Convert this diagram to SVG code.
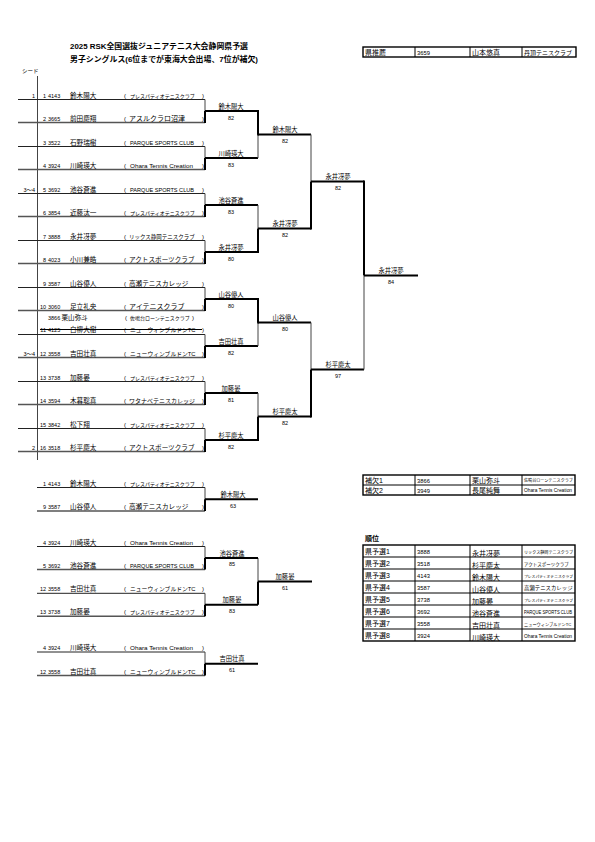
<svg xmlns="http://www.w3.org/2000/svg" width="595" height="842" viewBox="0 0 595 842">
<style>
text{font-family:"Liberation Sans","Noto Sans CJK JP",sans-serif;fill:#000}
.ttl{font-size:7.6px;font-weight:bold}
.s{font-size:5.5px}
.nm{font-size:6.6px}
.c{font-size:6px}
.pr{font-size:5px}
.pq{font-size:5.6px}
.oh{font-size:6px}
.rx{font-size:5.5px}
.ak{font-size:6.6px}
.wt{font-size:6px}
.nw{font-size:5.8px}
.sn{font-size:5px}
.tk2{font-size:6.6px}
.ai{font-size:7px}
.r{font-size:6.3px;text-anchor:middle}
.sc{font-size:5.5px;text-anchor:middle}
.e{text-anchor:end}
.tc{font-size:7px}
.tn{font-size:5.8px}
.t12{font-size:4.1px}
.t10{font-size:4.5px}
.t9{font-size:5.4px}
.tl{font-size:4.8px}
.pl{stroke:#222;stroke-width:1;fill:none}
.pl2{stroke:#555;stroke-width:1.4;fill:none}
.thin{stroke:#444;stroke-width:1;fill:none}
.thick{stroke:#000;stroke-width:2;fill:none}
.tb{stroke:#000;stroke-width:1;fill:none}
.tbo{stroke:#000;stroke-width:1.4;fill:none}
</style>
<rect width="595" height="842" fill="#fff"/>

<g id="title">
<text class="ttl" x="70" y="49" textLength="178" lengthAdjust="spacingAndGlyphs">2025 RSK全国選抜ジュニアテニス大会静岡県予選</text>
<text class="ttl" x="70" y="62" textLength="188" lengthAdjust="spacingAndGlyphs">男子シングルス(6位までが東海大会出場、7位が補欠)</text>
<text class="s" x="22" y="73">シード</text>
</g>

<g id="recommend-table">
<rect class="tbo" x="363" y="47" width="213" height="10"/>
<path class="tb" d="M415 47V57M470 47V57M522 47V57"/>
<text class="tc" x="365" y="54.5">県推薦</text>
<text class="tn" x="417" y="54.5">3659</text>
<text class="tc" x="472" y="55">山本悠真</text>
<text class="c" x="524" y="54.5">丹頂テニスクラブ</text>
</g>

<g id="connectors">
<path class="thin" d="M37.5 76V460"/>
<path class="pl" d="M18 99.5H205M18 146.5H205M18 193.5H205M18 240.5H205M18 287.5H205M18 334.5H205M18 381.5H205M18 428.5H205"/>
<path class="pl2" d="M18 122.5H205M18 169.5H205M18 216.5H205M18 263.5H205M18 310.5H205M18 357.5H205M18 404.5H205M18 451.5H205"/>
<path class="thin" d="M205 99.5V111M205 146.5V158M205 193.5V205M205 240.5V252M205 287.5V299M205 334.5V346M205 381.5V393M205 428.5V440"/>
<path class="thick" d="M205 111V123M205 158V170M205 205V217M205 252V264M205 299V311M205 346V358M205 393V405M205 440V452"/>
<path class="thick" d="M205 111H258M205 158H258M205 205H258M205 252H258M205 299H258M205 346H258M205 393H258M205 440H258"/>
<path class="thick" d="M258 110V135.5M258 228.5V253M258 298V323.5M258 416.5V441"/>
<path class="thin" d="M258 134.5V158M258 205V228.5M258 322.5V346M258 393V416.5"/>
<path class="thick" d="M258 134.5H311M258 228.5H311M258 322.5H311M258 416.5H311"/>
<path class="thin" d="M311 134.5V181.5M311 322.5V369.5"/>
<path class="thick" d="M311 181.5V229.5M311 369.5V417.5"/>
<path class="thick" d="M311 181.5H364M311 369.5H364"/>
<path class="thick" d="M364 180.5V275.5"/>
<path class="thin" d="M364 275.5V369.5"/>
<path class="thick" d="M364 275.5H418"/>
<path class="tb" d="M40 329.5H202"/>
<path class="pl" d="M37 487.5H205M37 546.5H205M37 593.3H205M37 652H205"/>
<path class="pl2" d="M37 511H205M37 569.5H205M37 616.3H205M37 675.5H205"/>
<path class="thin" d="M205 487.5V499.3M205 546.5V558M205 593.3V604.8M205 652V663.8M258 558V581.4"/>
<path class="thick" d="M205 499.3V511M205 558V569.5M205 604.8V616.3M205 663.8V675.5M258 581.4V604.8"/>
<path class="thick" d="M205 499.3H258M205 558H258M205 604.8H258M205 663.8H258M258 581.4H312"/>
</g>

<g id="players">
<g id="p1"><text class="s e" x="35" y="97.5">1</text><text class="s e" x="46" y="97.5">1</text><text class="s" x="48" y="97.5">4143</text><text class="nm" x="70" y="97.5">鈴木陽大</text><text class="c" x="124" y="97.5">(</text><text class="pr" x="130" y="97.5">プレスパティオテニスクラブ</text><text class="c" x="202" y="97.5">)</text></g>
<g id="p2"><text class="s e" x="46" y="120.5">2</text><text class="s" x="48" y="120.5">3665</text><text class="nm" x="70" y="120.5">前田慶翔</text><text class="c" x="124" y="120.5">(</text><text class="ai" x="129" y="120.5">アスルクラロ沼津</text><text class="c" x="202" y="120.5">)</text></g>
<g id="p3"><text class="s e" x="46" y="144.5">3</text><text class="s" x="48" y="144.5">3522</text><text class="nm" x="70" y="144.5">石野瑞樹</text><text class="c" x="124" y="144.5">(</text><text class="pq" x="130" y="144.5" textLength="64" lengthAdjust="spacingAndGlyphs">PARQUE SPORTS CLUB</text><text class="c" x="202" y="144.5">)</text></g>
<g id="p4"><text class="s e" x="46" y="167.5">4</text><text class="s" x="48" y="167.5">3924</text><text class="nm" x="70" y="167.5">川崎瑛大</text><text class="c" x="124" y="167.5">(</text><text class="oh" x="130" y="167.5" textLength="63" lengthAdjust="spacingAndGlyphs">Ohara Tennis Creation</text><text class="c" x="202" y="167.5">)</text></g>
<g id="p5"><text class="s e" x="35" y="191.5">3～4</text><text class="s e" x="46" y="191.5">5</text><text class="s" x="48" y="191.5">3692</text><text class="nm" x="70" y="191.5">池谷蒼進</text><text class="c" x="124" y="191.5">(</text><text class="pq" x="130" y="191.5" textLength="64" lengthAdjust="spacingAndGlyphs">PARQUE SPORTS CLUB</text><text class="c" x="202" y="191.5">)</text></g>
<g id="p6"><text class="s e" x="46" y="214.5">6</text><text class="s" x="48" y="214.5">3854</text><text class="nm" x="70" y="214.5">近藤汰一</text><text class="c" x="124" y="214.5">(</text><text class="pr" x="130" y="214.5">プレスパティオテニスクラブ</text><text class="c" x="202" y="214.5">)</text></g>
<g id="p7"><text class="s e" x="46" y="238.5">7</text><text class="s" x="48" y="238.5">3888</text><text class="nm" x="70" y="238.5">永井冴夢</text><text class="c" x="124" y="238.5">(</text><text class="rx" x="129" y="238.5">リックス静岡テニスクラブ</text><text class="c" x="202" y="238.5">)</text></g>
<g id="p8"><text class="s e" x="46" y="261.5">8</text><text class="s" x="48" y="261.5">4023</text><text class="nm" x="70" y="261.5">小川兼皓</text><text class="c" x="124" y="261.5">(</text><text class="ak" x="129" y="261.5">アクトスポーツクラブ</text><text class="c" x="202" y="261.5">)</text></g>
<g id="p9"><text class="s e" x="46" y="285.5">9</text><text class="s" x="48" y="285.5">3587</text><text class="nm" x="70" y="285.5">山谷優人</text><text class="c" x="124" y="285.5">(</text><text class="tk2" x="129" y="285.5">高瀬テニスカレッジ</text><text class="c" x="202" y="285.5">)</text></g>
<g id="p10"><text class="s e" x="46" y="308.5">10</text><text class="s" x="48" y="308.5">3060</text><text class="nm" x="70" y="308.5">足立礼央</text><text class="c" x="124" y="308.5">(</text><text class="ai" x="129" y="308.5">アイテニスクラブ</text><text class="c" x="202" y="308.5">)</text></g>
<g id="sub"><text class="s" x="48" y="319.5">3866</text><text class="nm" x="61.5" y="319.5">栗山弥斗</text><text class="c" x="125" y="319.5">(</text><text class="sn" x="130" y="319.5">佐鳴台ローンテニスクラブ</text><text class="c" x="192" y="319.5">)</text></g>
<g id="p11"><text class="s e" x="46" y="331.5">11</text><text class="s" x="48" y="331.5">4125</text><text class="nm" x="70" y="331.5">白柳大樹</text><text class="c" x="124" y="331.5">(</text><text class="nw" x="130" y="331.5">ニューウィンブルドンTC</text><text class="c" x="202" y="331.5">)</text></g>
<g id="p12"><text class="s e" x="35" y="355.5">3～4</text><text class="s e" x="46" y="355.5">12</text><text class="s" x="48" y="355.5">3558</text><text class="nm" x="70" y="355.5">吉田壮真</text><text class="c" x="124" y="355.5">(</text><text class="nw" x="130" y="355.5">ニューウィンブルドンTC</text><text class="c" x="202" y="355.5">)</text></g>
<g id="p13"><text class="s e" x="46" y="379.5">13</text><text class="s" x="48" y="379.5">3738</text><text class="nm" x="70" y="379.5">加藤晏</text><text class="c" x="124" y="379.5">(</text><text class="pr" x="130" y="379.5">プレスパティオテニスクラブ</text><text class="c" x="202" y="379.5">)</text></g>
<g id="p14"><text class="s e" x="46" y="402.5">14</text><text class="s" x="48" y="402.5">3594</text><text class="nm" x="70" y="402.5">木暮聡真</text><text class="c" x="124" y="402.5">(</text><text class="wt" x="129" y="402.5">ワタナベテニスカレッジ</text><text class="c" x="202" y="402.5">)</text></g>
<g id="p15"><text class="s e" x="46" y="426.5">15</text><text class="s" x="48" y="426.5">3842</text><text class="nm" x="70" y="426.5">松下翔</text><text class="c" x="124" y="426.5">(</text><text class="pr" x="130" y="426.5">プレスパティオテニスクラブ</text><text class="c" x="202" y="426.5">)</text></g>
<g id="p16"><text class="s e" x="35" y="449.5">2</text><text class="s e" x="46" y="449.5">16</text><text class="s" x="48" y="449.5">3518</text><text class="nm" x="70" y="449.5">杉平慶太</text><text class="c" x="124" y="449.5">(</text><text class="ak" x="129" y="449.5">アクトスポーツクラブ</text><text class="c" x="202" y="449.5">)</text></g>
</g>

<g id="results">
<text class="r" x="231" y="108.5">鈴木陽大</text><text class="sc" x="231" y="119.5">82</text>
<text class="r" x="231" y="155.5">川崎瑛大</text><text class="sc" x="231" y="166.5">83</text>
<text class="r" x="231" y="202.5">池谷蒼進</text><text class="sc" x="231" y="213.5">83</text>
<text class="r" x="231" y="249.5">永井冴夢</text><text class="sc" x="231" y="260.5">80</text>
<text class="r" x="231" y="296.5">山谷優人</text><text class="sc" x="231" y="307.5">80</text>
<text class="r" x="231" y="343.5">吉田壮真</text><text class="sc" x="231" y="354.5">82</text>
<text class="r" x="231" y="390.5">加藤晏</text><text class="sc" x="231" y="401.5">81</text>
<text class="r" x="231" y="437.5">杉平慶太</text><text class="sc" x="231" y="448.5">82</text>
<text class="r" x="285" y="132">鈴木陽大</text><text class="sc" x="285" y="143">82</text>
<text class="r" x="285" y="226">永井冴夢</text><text class="sc" x="285" y="237">82</text>
<text class="r" x="285" y="320">山谷優人</text><text class="sc" x="285" y="331">80</text>
<text class="r" x="285" y="414">杉平慶太</text><text class="sc" x="285" y="425">82</text>
<text class="r" x="338" y="179">永井冴夢</text><text class="sc" x="338" y="190">82</text>
<text class="r" x="338" y="367">杉平慶太</text><text class="sc" x="338" y="378">97</text>
<text class="r" x="391" y="273">永井冴夢</text><text class="sc" x="391" y="284">84</text>
</g>

<g id="playoff-a">
<text class="s e" x="46" y="485.5">1</text><text class="s" x="48" y="485.5">4143</text><text class="nm" x="70" y="485.5">鈴木陽大</text><text class="c" x="124" y="485.5">(</text><text class="pr" x="130" y="485.5">プレスパティオテニスクラブ</text><text class="c" x="202" y="485.5">)</text>
<text class="s e" x="46" y="509">9</text><text class="s" x="48" y="509">3587</text><text class="nm" x="70" y="509">山谷優人</text><text class="c" x="124" y="509">(</text><text class="tk2" x="129" y="509">高瀬テニスカレッジ</text><text class="c" x="202" y="509">)</text>
<text class="r" x="233" y="496.5">鈴木陽大</text><text class="sc" x="233" y="507.5">63</text>
</g>

<g id="playoff-b">
<text class="s e" x="46" y="544.5">4</text><text class="s" x="48" y="544.5">3924</text><text class="nm" x="70" y="544.5">川崎瑛大</text><text class="c" x="124" y="544.5">(</text><text class="oh" x="130" y="544.5" textLength="63" lengthAdjust="spacingAndGlyphs">Ohara Tennis Creation</text><text class="c" x="202" y="544.5">)</text>
<text class="s e" x="46" y="567.5">5</text><text class="s" x="48" y="567.5">3692</text><text class="nm" x="70" y="567.5">池谷蒼進</text><text class="c" x="124" y="567.5">(</text><text class="pq" x="130" y="567.5" textLength="64" lengthAdjust="spacingAndGlyphs">PARQUE SPORTS CLUB</text><text class="c" x="202" y="567.5">)</text>
<text class="s e" x="46" y="591.3">12</text><text class="s" x="48" y="591.3">3558</text><text class="nm" x="70" y="591.3">吉田壮真</text><text class="c" x="124" y="591.3">(</text><text class="nw" x="130" y="591.3">ニューウィンブルドンTC</text><text class="c" x="202" y="591.3">)</text>
<text class="s e" x="46" y="614.3">13</text><text class="s" x="48" y="614.3">3738</text><text class="nm" x="70" y="614.3">加藤晏</text><text class="c" x="124" y="614.3">(</text><text class="pr" x="130" y="614.3">プレスパティオテニスクラブ</text><text class="c" x="202" y="614.3">)</text>
<text class="r" x="232" y="555.5">池谷蒼進</text><text class="sc" x="232" y="566">85</text>
<text class="r" x="232" y="602.3">加藤晏</text><text class="sc" x="232" y="613">83</text>
<text class="r" x="285" y="579">加藤晏</text><text class="sc" x="285" y="590">61</text>
</g>

<g id="playoff-c">
<text class="s e" x="46" y="650">4</text><text class="s" x="48" y="650">3924</text><text class="nm" x="70" y="650">川崎瑛大</text><text class="c" x="124" y="650">(</text><text class="oh" x="130" y="650" textLength="63" lengthAdjust="spacingAndGlyphs">Ohara Tennis Creation</text><text class="c" x="202" y="650">)</text>
<text class="s e" x="46" y="673.5">12</text><text class="s" x="48" y="673.5">3558</text><text class="nm" x="70" y="673.5">吉田壮真</text><text class="c" x="124" y="673.5">(</text><text class="nw" x="130" y="673.5">ニューウィンブルドンTC</text><text class="c" x="202" y="673.5">)</text>
<text class="r" x="232" y="661.3">吉田壮真</text><text class="sc" x="232" y="672">61</text>
</g>

<g id="reserve-table">
<rect class="tbo" x="363" y="475" width="212" height="20"/>
<path class="tb" d="M363 485H575M415 475V495M470 475V495M522 475V495"/>
<text class="tc" x="365" y="482.5">補欠1</text><text class="tn" x="417" y="482.5">3866</text><text class="tc" x="472" y="483">栗山弥斗</text><text class="t12" x="524" y="482">佐鳴台ローンテニスクラブ</text>
<text class="tc" x="365" y="492.5">補欠2</text><text class="tn" x="417" y="492.5">3949</text><text class="tc" x="472" y="493">長尾純舞</text><text class="tl" x="524" y="492" textLength="48" lengthAdjust="spacingAndGlyphs">Ohara Tennis Creation</text>
</g>

<g id="ranking-table">
<text class="tc" x="365" y="541" font-weight="bold">順位</text>
<rect class="tbo" x="363" y="545" width="212" height="96"/>
<path class="tb" d="M363 557H575M363 569H575M363 581H575M363 593H575M363 605H575M363 617H575M363 629H575M415 545V641M470 545V641M522 545V641"/>
<text class="tc" x="365" y="553.5">県予選1</text><text class="tn" x="417" y="553.5">3888</text><text class="tc" x="472" y="555.5">永井冴夢</text><text class="t12" x="524" y="554">リックス静岡テニスクラブ</text>
<text class="tc" x="365" y="565.5">県予選2</text><text class="tn" x="417" y="565.5">3518</text><text class="tc" x="472" y="567.5">杉平慶太</text><text class="t10" x="524" y="566">アクトスポーツクラブ</text>
<text class="tc" x="365" y="577.5">県予選3</text><text class="tn" x="417" y="577.5">4143</text><text class="tc" x="472" y="579.5">鈴木陽大</text><text class="t12" x="524" y="578" style="font-size:3.8px">プレスパティオテニスクラブ</text>
<text class="tc" x="365" y="589.5">県予選4</text><text class="tn" x="417" y="589.5">3587</text><text class="tc" x="472" y="591.5">山谷優人</text><text class="t9" x="524" y="590">高瀬テニスカレッジ</text>
<text class="tc" x="365" y="601.5">県予選5</text><text class="tn" x="417" y="601.5">3738</text><text class="tc" x="472" y="603.5">加藤晏</text><text class="t12" x="524" y="602" style="font-size:3.8px">プレスパティオテニスクラブ</text>
<text class="tc" x="365" y="613.5">県予選6</text><text class="tn" x="417" y="613.5">3692</text><text class="tc" x="472" y="615.5">池谷蒼進</text><text class="tl" x="524" y="614" textLength="48" lengthAdjust="spacingAndGlyphs">PARQUE SPORTS CLUB</text>
<text class="tc" x="365" y="625.5">県予選7</text><text class="tn" x="417" y="625.5">3558</text><text class="tc" x="472" y="627.5">吉田壮真</text><text class="t12" x="524" y="626" style="font-size:4.2px">ニューウィンブルドンTC</text>
<text class="tc" x="365" y="637.5">県予選8</text><text class="tn" x="417" y="637.5">3924</text><text class="tc" x="472" y="639.5">川崎瑛大</text><text class="tl" x="524" y="638" textLength="48" lengthAdjust="spacingAndGlyphs">Ohara Tennis Creation</text>
</g>
</svg>
